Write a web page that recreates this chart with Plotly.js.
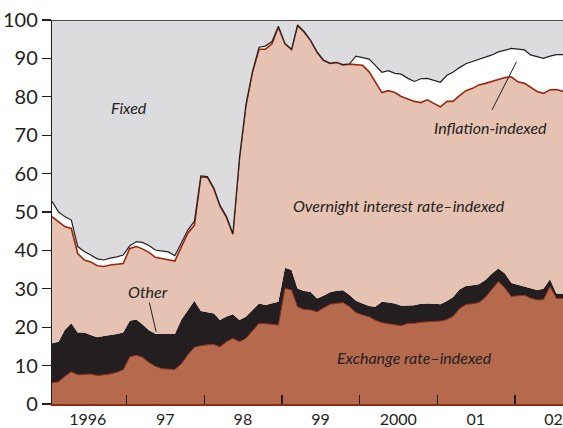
<!DOCTYPE html>
<html>
<head>
<meta charset="utf-8">
<script src="https://cdn.plot.ly/plotly-3.0.1.min.js"></script>
<style>
html,body{margin:0;padding:0;background:#fff;}
#chart{width:563px;height:428px;}
</style>
</head>
<body>
<div id="chart"></div>
<script>
// Monthly observations, Jan 1996 – Aug 2002 (share of total, per cent)
const startYear = 1996, startMonth = 1, nMonths = 80;

const exchange = [5.5,5.8,7.2,8.4,7.6,7.7,7.8,7.4,7.6,7.8, 8.3,8.9,12.3,12.7,12.2,10.8,9.8,9.2,9.1,9.0,
  10.5,12.8,14.8,15.2,15.4,15.5,14.9,16.2,17.1,16.2, 17.1,19.0,21.0,20.9,20.8,20.6,30.1,29.7,25.3,24.6,
  24.5,24.0,25.0,26.0,26.2,26.4,25.3,23.8,23.2,22.7, 21.8,21.2,20.9,20.6,20.4,21.0,21.0,21.3,21.4,21.4,
  21.6,22.0,22.8,24.8,25.9,26.1,26.4,27.8,29.8,31.9, 30.2,28.0,28.2,28.3,27.6,27.1,27.2,30.6,27.5,27.5];

const other = [10.3,10.4,12.1,12.6,11.0,10.9,10.2,10.0,10.1,10.1, 9.9,9.7,9.4,9.3,8.6,8.4,8.5,9.1,9.1,9.2,
  11.5,11.7,12.1,9.0,8.4,8.1,7.0,6.6,6.3,5.7, 5.6,5.5,5.2,4.9,5.4,6.0,5.4,5.2,4.8,4.8,
  4.7,3.5,3.2,3.1,3.3,3.2,3.1,3.1,3.0,2.8, 3.5,5.4,5.5,5.6,5.2,4.7,4.7,4.8,4.8,4.7,
  4.4,4.8,5.0,5.0,4.8,4.8,4.8,4.5,4.2,3.4, 3.8,3.5,2.8,2.4,2.6,2.6,2.8,1.9,1.3,1.2];

const overnight = [33.0,31.3,26.9,24.7,20.6,18.9,19.0,18.6,18.1,18.3, 18.2,18.0,18.8,19.0,19.6,20.3,19.9,19.5,19.4,19.0,
  19.0,20.0,19.7,34.9,35.2,32.4,29.7,25.8,20.8,42.1, 54.9,61.9,66.2,66.6,67.6,71.6,58.3,57.4,68.5,67.5,
  65.5,64.1,61.3,59.6,59.4,58.7,60.1,61.5,62.0,61.0, 58.7,54.5,55.2,54.9,54.5,53.7,53.1,52.4,53.0,52.2,
  51.4,52.0,51.0,50.5,50.9,51.3,51.9,51.2,50.0,49.3, 51.0,53.7,52.9,52.8,52.2,51.7,50.9,49.3,53.1,52.7];

const inflation = [4.0,2.5,2.6,2.2,1.8,2.2,1.8,1.8,1.7,1.8, 1.9,2.2,0.7,1.3,1.7,1.8,1.9,2.0,2.0,1.4,
  1.0,0.8,1.0,0.3,0.2,0.2,0.2,0.2,0.2,0.2, 0.3,0.2,0.5,0.8,0.6,0.2,0.1,0.1,0.1,0.1,
  0.1,0.1,0.1,0.1,0.1,0.1,0.1,2.2,2.0,3.3, 4.2,5.3,5.2,5.0,5.8,5.4,5.2,6.2,5.6,6.1,
  6.4,6.8,7.6,7.3,7.0,7.0,6.6,6.7,6.9,7.1, 7.2,7.4,8.5,8.7,8.5,9.0,9.1,8.8,9.1,9.6];

const fixed = [47.2,50.0,51.2,52.1,59.0,60.3,61.2,62.2,62.5,62.0, 61.7,61.2,58.8,57.7,57.9,58.7,59.9,60.2,60.4,61.4,
  58.0,54.7,52.4,40.6,40.8,43.8,48.2,51.2,55.6,35.8, 22.1,13.4,7.1,6.8,5.6,1.6,6.1,7.6,1.3,3.0,
  5.2,8.3,10.4,11.2,11.0,11.6,11.4,9.4,9.8,10.2, 11.8,13.6,13.2,13.9,14.1,15.2,16.0,15.3,15.2,15.6,
  16.2,14.4,13.6,12.4,11.4,10.8,10.3,9.8,9.1,8.3, 7.8,7.4,7.6,7.8,9.1,9.6,10.0,9.4,9.0,9.0];

const yearLabels = ['1996','97','98','99','2000','01','02'];
const labelYears = [1996,1997,1998,1999,2000,2001,2002];
const boundaryYears = [1997,1998,1999,2000,2001,2002];
const yTicks = [0,10,20,30,40,50,60,70,80,90,100];

// build month dates (mid-month)
const pad = n => (n < 10 ? '0' : '') + n;
const dates = [];
for (let k = 0; k < nMonths; k++) {
  const m0 = startMonth - 1 + k;
  const y = startYear + Math.floor(m0 / 12);
  const m = (m0 % 12) + 1;
  dates.push(y + '-' + pad(m) + '-15');
}

const C = {
  exchange: '#b56a4e', exchangeLine: '#8e2b15',
  other: '#231f20',
  overnight: '#e6c2b2', overnightLine: '#9a2811',
  inflation: '#ffffff', inflationLine: '#231f20',
  fixed: '#dcdcde', ink: '#231f20'
};

const common = {x: dates, type: 'scatter', mode: 'lines', stackgroup: 'one', hoverinfo: 'skip'};
const traces = [
  Object.assign({}, common, {name: 'Exchange rate–indexed', y: exchange, fillcolor: C.exchange, line: {color: C.exchangeLine, width: 1}}),
  Object.assign({}, common, {name: 'Other', y: other, fillcolor: C.other, line: {color: C.other, width: 0}}),
  Object.assign({}, common, {name: 'Overnight interest rate–indexed', y: overnight, fillcolor: C.overnight, line: {color: C.overnightLine, width: 1.6}}),
  Object.assign({}, common, {name: 'Inflation-indexed', y: inflation, fillcolor: C.inflation, line: {color: C.inflationLine, width: 1.2}}),
  Object.assign({}, common, {name: 'Fixed', y: fixed, fillcolor: C.fixed, line: {color: C.fixed, width: 0}})
];

const font = 'Lato, "Open Sans", "DejaVu Sans", sans-serif';
const annFont = {family: font, size: 16, color: C.ink, style: 'italic'};

const layout = {
  width: 563, height: 428,
  margin: {l: 52, r: 0, t: 20, b: 24, pad: 0},
  paper_bgcolor: '#ffffff', plot_bgcolor: '#ffffff',
  showlegend: false,
  xaxis: {
    type: 'date',
    range: [dates[0], dates[dates.length - 1]],
    tickmode: 'array',
    tickvals: labelYears.map(y => y + '-07-01'),
    ticktext: yearLabels,
    ticks: '',
    tickfont: {family: font, size: 16, color: C.ink},
    showgrid: false, zeroline: false,
    showline: true, linecolor: C.exchangeLine, linewidth: 1.5,
    minor: {tickmode: 'array', tickvals: boundaryYears.map(y => y + '-01-01'), ticks: 'inside', ticklen: 9, tickwidth: 1.3, tickcolor: C.ink, showgrid: false},
    fixedrange: true
  },
  yaxis: {
    range: [0, 100],
    tickmode: 'array', tickvals: yTicks,
    ticks: 'outside', ticklen: 9, tickwidth: 1.3, tickcolor: C.ink,
    tickfont: {family: font, size: 20, color: C.ink},
    showgrid: false, zeroline: false,
    showline: true, linecolor: C.ink, linewidth: 1.2,
    fixedrange: true
  },
  shapes: [
    {type: 'line', xref: 'paper', yref: 'y', x0: 0, x1: 1, y0: 100, y1: 100, line: {color: C.ink, width: 1.3}},
    {type: 'line', xref: 'x', yref: 'y', x0: '2002-01-08', y0: 89.1, x1: '2001-09-15', y1: 76.6, line: {color: C.ink, width: 1}},
    {type: 'line', xref: 'x', yref: 'y', x0: '1997-04-17', y0: 26.4, x1: '1997-05-19', y1: 18.8, line: {color: C.ink, width: 1}}
  ],
  annotations: [
    {x: '1997-01-12', y: 77.1, text: 'Fixed', showarrow: false, font: annFont},
    {x: '2000-07-04', y: 51.6, text: 'Overnight interest rate–indexed', showarrow: false, font: annFont},
    {x: '2001-09-10', y: 72.1, text: 'Inflation-indexed', showarrow: false, font: annFont},
    {x: '1997-04-10', y: 29.4, text: 'Other', showarrow: false, font: annFont},
    {x: '2000-09-16', y: 12.0, text: 'Exchange rate–indexed', showarrow: false, font: annFont}
  ]
};

Plotly.newPlot('chart', traces, layout, {staticPlot: true, displayModeBar: false});
</script>
</body>
</html>
